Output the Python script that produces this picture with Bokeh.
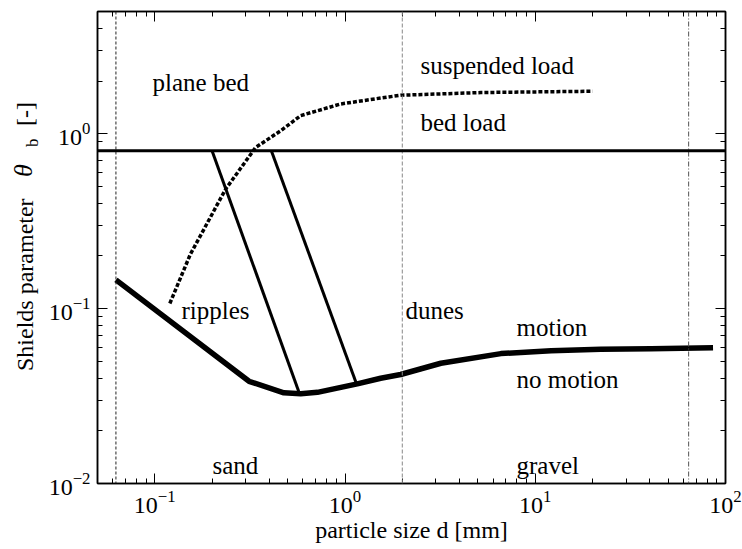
import math
from bokeh.plotting import figure
from bokeh.layouts import row
from bokeh.models import LogAxis, FixedTicker, LogTickFormatter, Span, ColumnDataSource, CustomJSTickFormatter, Div
from bokeh.embed import file_html
from bokeh.resources import INLINE
from bokeh.core.properties import value

# ---------------- data ----------------
# Shields curve: critical Shields parameter vs particle size (mm)
shields_d = [0.0625, 0.313, 0.477, 0.585, 0.716, 1.16, 1.54, 1.96, 3.19, 6.6, 12.1, 22.1, 40.6, 86.0]
shields_theta = [0.146, 0.0384, 0.033, 0.0326, 0.0332, 0.0371, 0.040, 0.042, 0.0487, 0.0553, 0.0575, 0.0585, 0.059, 0.0597]

# suspension criterion (dotted)
susp_d = [0.12, 0.154, 0.236, 0.339, 0.459, 0.585, 0.95, 1.54, 1.96, 5.18, 20.0]
susp_theta = [0.107, 0.205, 0.483, 0.835, 1.04, 1.27, 1.48, 1.6, 1.66, 1.72, 1.75]

# ripple / dune boundaries (two straight lines)
ripple1_d = [0.2, 0.573]
ripple1_theta = [0.8, 0.0332]
ripple2_d = [0.41, 1.15]
ripple2_theta = [0.8, 0.0371]

# upper-regime (plane bed) threshold
plane_bed_theta = 0.8
# sand / gravel class limits (mm)
class_limits = [0.0625, 2.0, 64.0]

region_labels = ["plane bed", "suspended load", "bed load", "ripples", "dunes",
                 "motion", "no motion", "sand", "gravel"]
major_ticks = [0.01, 0.1, 1.0, 10.0, 100.0]

# ---------------- layout helpers ----------------
W, H = 742, 549
YDIV_W = 40                                 # width of the y-title strip
FL, FT, FR, FB = 97, 11, 725, 483           # frame edges in page px
XLO, XHI = 0.05, 100.0
YLO, YHI = 0.01, 5.0


def px2x(px):   # page px -> data x
    return 10 ** (math.log10(XLO) + (px - FL) / (FR - FL) * (math.log10(XHI) - math.log10(XLO)))


def py2y(py):   # page px -> data y
    return 10 ** (math.log10(YHI) - (py - FT) / (FB - FT) * (math.log10(YHI) - math.log10(YLO)))


label_px = [(152, 82), (420, 65), (420, 122), (181, 310), (405, 310),
            (516, 327), (516, 379), (212, 465), (516, 465)]

FONT = "Liberation Serif"

p = figure(width=W - YDIV_W, height=H, x_axis_type="log", y_axis_type="log",
           x_range=(XLO, XHI), y_range=(YLO, YHI),
           output_backend="svg", toolbar_location=None,
           min_border_left=FL - YDIV_W, min_border_right=W - FR,
           min_border_top=FT, min_border_bottom=H - FB, margin=0)
p.xgrid.visible = False
p.ygrid.visible = False
p.outline_line_color = "black"
p.outline_line_width = 1.5
p.background_fill_color = "white"
p.border_fill_color = "white"

minor = [m * 10.0 ** e for e in range(-3, 3) for m in range(2, 10)]
ticker = FixedTicker(ticks=major_ticks, minor_ticks=minor)

for ax in (p.xaxis[0], p.yaxis[0]):
    ax.ticker = ticker
    ax.formatter = LogTickFormatter()
    ax.major_tick_in = 10
    ax.major_tick_out = 0
    ax.minor_tick_in = 5
    ax.minor_tick_out = 0
    ax.axis_line_color = "black"
    ax.axis_line_width = 1.5
    ax.major_tick_line_color = "black"
    ax.minor_tick_line_color = "black"
    ax.major_label_text_font = FONT
    ax.major_label_text_font_size = "24px"
    ax.major_label_text_color = "black"
    ax.major_label_standoff = 7

p.xaxis.axis_label = "particle size d [mm]"
p.xaxis.axis_label_text_font = FONT
p.xaxis.axis_label_text_font_size = "24px"
p.xaxis.axis_label_text_font_style = "normal"
p.xaxis.axis_label_text_color = "black"
p.xaxis.axis_label_standoff = 1

blank = CustomJSTickFormatter(code="return ''")
for loc in ("above", "right"):
    ax = LogAxis(ticker=ticker, formatter=blank, major_tick_in=10, major_tick_out=0,
                 minor_tick_in=5, minor_tick_out=0,
                 major_label_text_font_size="2px", major_label_standoff=0,
                 axis_line_color="black", axis_line_width=1.5)
    p.add_layout(ax, loc)

# class limit verticals
dashes = ["3 2", "4 2", "5 2 1 2"]
colors = ["#222222", "#888888", "#555555"]
for loc, dsh, col in zip(class_limits, dashes, colors):
    p.add_layout(Span(location=loc, dimension="height", line_color=col,
                      line_width=1, line_dash=dsh))

# plane-bed threshold
p.add_layout(Span(location=plane_bed_theta, dimension="width",
                  line_color="black", line_width=3))

p.line(ripple1_d, ripple1_theta, line_color="black", line_width=3)
p.line(ripple2_d, ripple2_theta, line_color="black", line_width=3)
p.line(susp_d, susp_theta, line_color="black", line_width=3.5, line_dash="4 2")
p.line(shields_d, shields_theta, line_color="black", line_width=5.5, line_join="round")

src = ColumnDataSource(dict(x=[px2x(a) for a, b in label_px],
                            y=[py2y(b) for a, b in label_px],
                            t=region_labels))
p.text(x="x", y="y", text="t", source=src, text_font=value(FONT),
       text_font_size="25px", text_align="left", text_baseline="middle",
       text_color="black")


# y-axis title: rotated HTML pieces (italic theta, subscript b) in a strip at the page origin
def piece(text, base_x, start_y, size, style="normal"):
    left = base_x - 0.8375 * size
    return (f'<div style="position:absolute; left:{left:.1f}px; top:{start_y}px; '
            f'transform:rotate(-90deg); transform-origin:0 0; white-space:nowrap; '
            f"font-family:'{FONT}'; font-size:{size}px; line-height:1; "
            f'font-style:{style}; color:black;">{text}</div>')


ytitle = (piece("Shields parameter", 33, 371, 24)
          + piece("θ", 33, 177, 26, "italic")
          + piece("b", 38, 147, 17)
          + piece("[-]", 33, 126, 24))
ydiv = Div(text=ytitle, width=YDIV_W, height=H, margin=0,
           styles={"position": "relative", "overflow": "visible"})

layout = row(ydiv, p, spacing=0)
open("out.html", "w").write(file_html(layout, INLINE))
